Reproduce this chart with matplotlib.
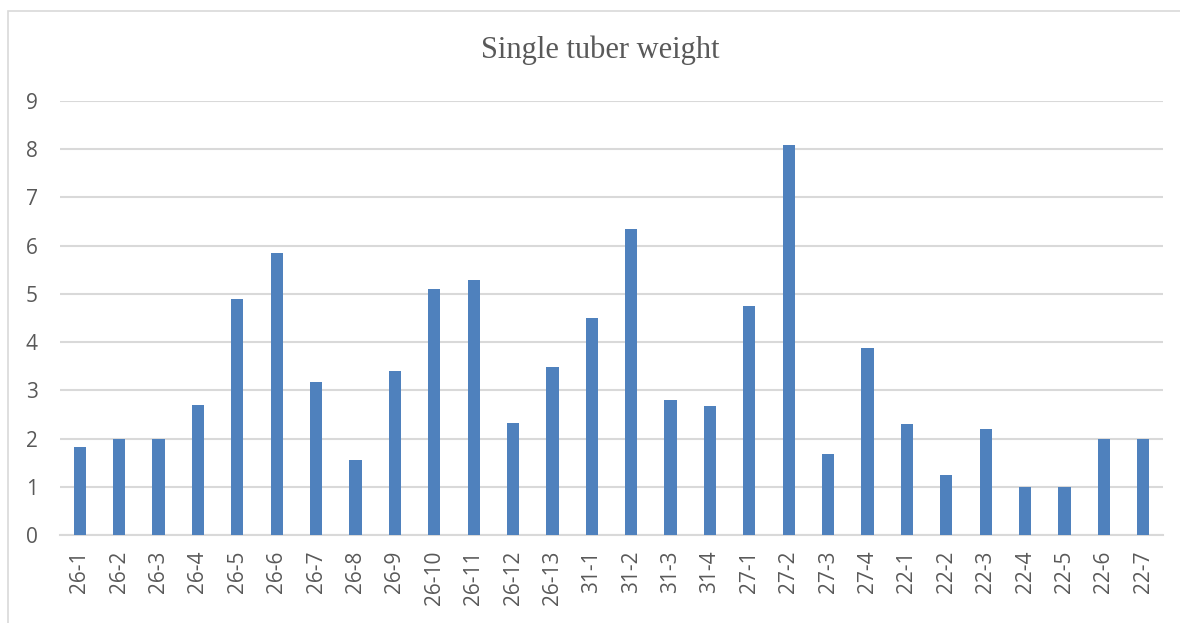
import matplotlib.pyplot as plt
from matplotlib.patches import Rectangle

# single tuber weight per plant line
labels = ['26-1', '26-2', '26-3', '26-4', '26-5', '26-6', '26-7', '26-8', '26-9',
          '26-10', '26-11', '26-12', '26-13', '31-1', '31-2', '31-3', '31-4',
          '27-1', '27-2', '27-3', '27-4', '22-1', '22-2', '22-3', '22-4', '22-5',
          '22-6', '22-7']
weights = [1.83, 2.0, 2.0, 2.7, 4.9, 5.85, 3.17, 1.56, 3.4, 5.1, 5.29, 2.32, 3.49,
           4.5, 6.35, 2.8, 2.68, 4.75, 8.09, 1.68, 3.88, 2.3, 1.24, 2.2, 1.0, 1.0,
           2.0, 2.0]

W, H = 1180, 623
fig = plt.figure(figsize=(W / 100, H / 100), dpi=100)

# chart frame
fig.patches.append(Rectangle((8 / W, -0.1), 1.2, (623 - 11.5) / H + 0.1,
                             transform=fig.transFigure, fill=False,
                             edgecolor='#d9d9d9', lw=1.2))

ax = fig.add_axes([60 / W, (H - 535) / H, (1163 - 60) / W, (535 - 101) / H])
x = range(len(labels))
ax.bar(x, weights, width=0.31, color='#4f81bd', zorder=3)

ax.set_xlim(-0.5, len(labels) - 0.5)
ax.set_ylim(0, 9)
ax.set_yticks(range(10))
ax.set_xticks(list(x))
ax.set_xticklabels(labels, rotation=90)
ax.yaxis.grid(True, color='#d9d9d9', lw=1.5, zorder=0)
for s in ['top', 'right', 'left']:
    ax.spines[s].set_visible(False)
ax.spines['bottom'].set_color('#d9d9d9')
ax.spines['bottom'].set_linewidth(1.5)
ax.tick_params(length=0, labelsize=15, labelcolor='#595959')
for t in ax.get_xticklabels() + ax.get_yticklabels():
    t.set_family('Open Sans')
ax.tick_params(axis='x', pad=11)
ax.tick_params(axis='y', pad=16)

fig.text(600 / W, 1 - 50 / H, 'Single tuber weight', ha='center', va='center',
         family='Liberation Serif', fontsize=22, color='#595959')

fig.savefig('out.png', dpi=100)
